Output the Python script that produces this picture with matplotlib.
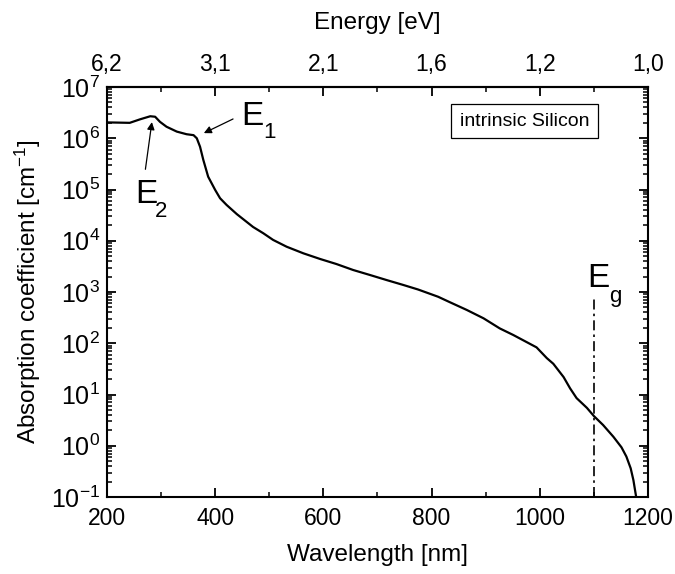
import numpy as np
import matplotlib
matplotlib.use("Agg")
import matplotlib.pyplot as plt
from matplotlib.ticker import MultipleLocator, FixedLocator, NullFormatter

# ------------------------------------------------------------
# Fonts
# ------------------------------------------------------------
plt.rcParams["font.family"] = ["Liberation Sans", "DejaVu Sans"]
plt.rcParams["mathtext.fontset"] = "custom"
plt.rcParams["mathtext.rm"] = "Liberation Sans"
plt.rcParams["mathtext.it"] = "Liberation Sans"
plt.rcParams["axes.linewidth"] = 1.5
plt.rcParams["axes.unicode_minus"] = False

# ------------------------------------------------------------
# Absorption spectrum of intrinsic silicon
# ------------------------------------------------------------
wavelength_nm = [
    200, 242, 261, 280, 289, 298, 310, 329, 347, 360,
    366, 372, 378, 387, 400, 409, 421, 440, 470, 489,
    507, 532, 563, 594, 624, 655, 686, 717, 748, 775,
    812, 834, 865, 896, 926, 951, 976, 994, 1013, 1025,
    1044, 1056, 1068, 1087, 1100, 1117, 1136, 1151, 1160, 1168,
    1173, 1178,
]
alpha_cm = [
    2.04e6, 2.0e6, 2.34e6, 2.69e6, 2.63e6, 2.09e6, 1.68e6, 1.35e6, 1.20e6, 1.15e6,
    1.0e6, 6.84e5, 3.8e5, 1.78e5, 9.8e4, 6.76e4, 5.01e4, 3.31e4, 1.86e4, 1.40e4,
    1.04e4, 7.66e3, 5.69e3, 4.41e3, 3.52e3, 2.69e3, 2.15e3, 1.71e3, 1.37e3, 1.12e3,
    809, 631, 447, 307, 195, 145, 105, 83.2, 51.3, 39.8,
    21.9, 13.2, 8.51, 5.50, 3.80, 2.54, 1.50, 0.933, 0.617, 0.363,
    0.214, 0.102,
]

# band gap marker
EG_WL = 1100
EG_TOP = 760

# decades on the absorption axis
decade_exp = [-1, 0, 1, 2, 3, 4, 5, 6, 7]

# top axis: photon energy at the bottom major ticks
energy_tick_wl = [200, 400, 600, 800, 1000, 1200]
energy_tick_labels = ["6,2", "3,1", "2,1", "1,6", "1,2", "1,0"]

# ------------------------------------------------------------
# Figure
# ------------------------------------------------------------
fig = plt.figure(figsize=(6.75, 5.74), dpi=100)
ax = fig.add_axes([0.1585, 0.1341, 0.8015, 0.7143])

ax.plot(wavelength_nm, alpha_cm, color="black", linewidth=1.6)
ax.plot([EG_WL, EG_WL], [0.1, EG_TOP], color="black", linewidth=1.2,
        linestyle=(0, (6, 2.5, 1.5, 2.5)))

ax.set_xlim(200, 1200)
ax.set_yscale("log")
ax.set_ylim(0.1, 1e7)

ax.xaxis.set_major_locator(MultipleLocator(200))
ax.xaxis.set_minor_locator(MultipleLocator(100))

major_y = [10.0 ** e for e in decade_exp]
minor_y = [m * 10.0 ** e for e in decade_exp[:-1] for m in range(2, 10)]
ax.yaxis.set_major_locator(FixedLocator(major_y))
ax.yaxis.set_minor_locator(FixedLocator(minor_y))
ax.yaxis.set_minor_formatter(NullFormatter())
ax.set_yticklabels([rf"$\mathregular{{10^{{{e}}}}}$" for e in decade_exp])

ax.tick_params(which="both", direction="in", top=False, right=True, color="black")
ax.tick_params(which="major", length=6.5, width=1.3)
ax.tick_params(which="minor", length=3.5, width=1.1)
ax.tick_params(axis="x", labelsize=16.5, pad=7)
ax.tick_params(axis="y", labelsize=18, pad=5)

ax.set_xlabel("Wavelength [nm]", fontsize=17.5, labelpad=10)
ax.set_ylabel(r"Absorption coefficient [cm$^{\mathregular{-1}}$]",
              fontsize=17.5, labelpad=6)

# top energy axis
ax_top = ax.secondary_xaxis("top")
ax_top.set_xticks(energy_tick_wl)
ax_top.set_xticklabels(energy_tick_labels)
ax_top.xaxis.set_minor_locator(MultipleLocator(100))
ax_top.tick_params(which="both", direction="in", labelsize=16.5, pad=8, color="black")
ax_top.tick_params(which="major", length=6.5, width=1.3)
ax_top.tick_params(which="minor", length=3.5, width=1.1)
ax_top.set_xlabel("Energy [eV]", fontsize=17.5, labelpad=17)

# critical point labels
ax.annotate("", xy=(379, 1.26e6), xytext=(433, 2.38e6),
            arrowprops=dict(arrowstyle="-|>", color="black", lw=0.9,
                            mutation_scale=11, shrinkA=0, shrinkB=0))
ax.annotate("", xy=(283, 2.07e6), xytext=(271, 2.48e5),
            arrowprops=dict(arrowstyle="-|>", color="black", lw=0.9,
                            mutation_scale=11, shrinkA=0, shrinkB=0))

ax.text(449, 1.82e6, "E", fontsize=24, ha="left", va="baseline")
ax.text(488, 1.01e6, "1", fontsize=16, ha="left", va="baseline")
ax.text(252, 5.46e4, "E", fontsize=24, ha="left", va="baseline")
ax.text(289, 2.9e4, "2", fontsize=16, ha="left", va="baseline")
ax.text(1087, 1.25e3, "E", fontsize=24, ha="left", va="baseline")
ax.text(1128, 640, "g", fontsize=16, ha="left", va="baseline")

ax.text(0.772, 0.917, "intrinsic Silicon", transform=ax.transAxes,
        fontsize=14, ha="center", va="center",
        bbox=dict(boxstyle="square,pad=0.45", facecolor="white",
                  edgecolor="black", linewidth=0.9))

fig.savefig("out.png", dpi=100)
